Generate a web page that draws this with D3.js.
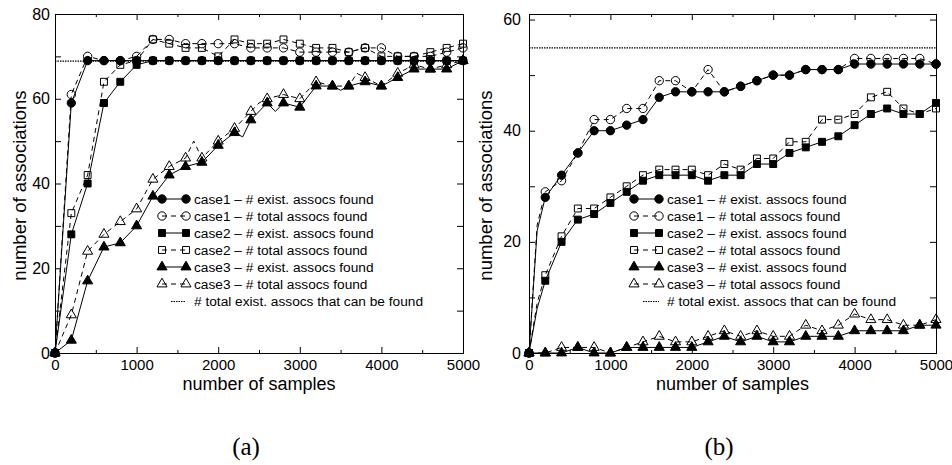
<!DOCTYPE html>
<html>
<head>
<meta charset="utf-8">
<script src="https://cdn.jsdelivr.net/npm/d3@7"></script>
<style>
  body { margin: 0; background: #fff; }
  text { font-family: "Liberation Sans", Arial, Helvetica, sans-serif; fill: #000; }
  .caption { font-family: "Liberation Serif", "DejaVu Serif", serif; }
</style>
</head>
<body>
<div id="main-frame"></div>
<script>
// sample counts (x positions of the markers)
const samples = [0, 200, 400, 600, 800, 1000, 1200, 1400, 1600, 1800, 2000, 2200, 2400,
  2600, 2800, 3000, 3200, 3400, 3600, 3800, 4000, 4200, 4400, 4600, 4800, 5000];

const xMajorTicks = [0, 1000, 2000, 3000, 4000, 5000];
const xMinorTicks = [500, 1500, 2500, 3500, 4500];

const legendLabels = [
  "case1 \u2013 # exist. assocs found",
  "case1 \u2013 # total assocs found",
  "case2 \u2013 # exist. assocs found",
  "case2 \u2013 # total assocs found",
  "case3 \u2013 # exist. assocs found",
  "case3 \u2013 # total assocs found",
  "# total exist. assocs that can be found",
];

// panel (a)
const aCase1Exist = [0, 59, 69, 69, 69, 69, 69, 69, 69, 69, 69, 69, 69, 69, 69, 69, 69, 69, 69, 69, 69, 69, 69, 69, 69, 69];
const aCase1Total = [0, 61, 70, 69, 69, 70, 74, 74, 73, 73, 73, 73, 72, 72, 72, 71, 71, 71, 71, 72, 72, 70, 70, 70, 71, 72];
const aCase2Exist = [0, 28, 40, 59, 64, 68, 69, 69, 69, 69, 69, 69, 69, 69, 69, 69, 69, 69, 69, 69, 69, 69, 69, 69, 69, 69];
const aCase2Total = [0, 33, 42, 64, 68, 69, 74, 73, 72, 72, 70, 74, 73, 73, 74, 73, 72, 72, 71, 72, 70, 70, 70, 71, 72, 73];
const aCase3Exist = [0, 3, 17, 25, 26, 30, 37, 42, 44, 45, 49, 52, 55, 59, 59, 58, 63, 63, 63, 64, 63, 65, 67, 67, 67, 69];
const aCase3Total = [0, 9, 24, 28, 31, 34, 41, 44, 46, 46, 50, 53, 57, 60, 61, 60, 64, 63, 63, 65, 63, 66, 68, 67, 68, 69];
// in-between line vertices (no marker)
const aCase3ExistExtra = [[2300, 51], [2700, 57], [3500, 62]];
const aCase3TotalExtra = [[1700, 50], [2500, 59], [3700, 66]];
const aMaxFound = 69;

// panel (b)
const bCase1Exist = [0, 28, 32, 36, 40, 40, 41, 42, 46, 47, 47, 47, 47, 48, 49, 50, 50, 51, 51, 51, 52, 52, 52, 52, 52, 52];
const bCase1Total = [0, 29, 31, 36, 42, 42, 44, 44, 49, 49, 47, 51, 47, 48, 49, 50, 50, 51, 51, 51, 53, 53, 53, 53, 53, 52];
const bCase2Exist = [0, 13, 20, 24, 25, 27, 29, 31, 32, 32, 32, 31, 32, 32, 34, 34, 36, 37, 38, 39, 41, 43, 44, 43, 43, 45];
const bCase2Total = [0, 14, 21, 26, 26, 28, 30, 32, 33, 33, 33, 32, 34, 33, 35, 35, 38, 38, 42, 42, 43, 46, 47, 44, 43, 44];
const bCase3Exist = [0, 0, 0, 1, 0, 0, 1, 1, 1, 1, 1, 2, 3, 2, 3, 2, 2, 3, 3, 3, 4, 4, 4, 4, 5, 5];
const bCase3Total = [0, 0, 1, 1, 1, 0, 1, 2, 3, 2, 2, 3, 4, 3, 4, 3, 3, 5, 4, 5, 7, 6, 6, 5, 5, 6];
const bCase1ExistExtra = [[100, 22]];
const bCase1TotalExtra = [[100, 23]];
const bCase2ExistExtra = [[100, 8]];
const bCase2TotalExtra = [[100, 9]];
const bMaxFound = 55;

const svg = d3
  .select("#main-frame")
  .append("svg")
  .attr("width", 952)
  .attr("height", 465);

svg.append("rect").attr("width", 952).attr("height", 465).attr("fill", "#fff");

// marker styles for the six series, in legend order
const styles = [
  { type: d3.symbolCircle, size: 55, filled: true, dash: null },
  { type: d3.symbolCircle, size: 55, filled: false, dash: "5,4" },
  { type: d3.symbolSquare, size: 48, filled: true, dash: null },
  { type: d3.symbolSquare, size: 48, filled: false, dash: "5,4" },
  { type: d3.symbolTriangle, size: 44, filled: true, dash: null },
  { type: d3.symbolTriangle, size: 44, filled: false, dash: "5,4" },
];

function drawMarker(g, style, px, py) {
  g.append("path")
    .attr("d", d3.symbol().type(style.type).size(style.size)())
    .attr("transform", `translate(${px},${py})`)
    .attr("fill", style.filled ? "#000" : "none")
    .attr("stroke", "#000")
    .attr("stroke-width", 1);
}

function drawPanel(p) {
  const x = d3.scaleLinear().domain([0, 5000]).range([p.left, p.right]);
  const y = d3.scaleLinear().domain([0, p.yMax]).range([p.bottom, p.top]);
  const g = svg.append("g");

  const fixAxis = (sel) => {
    sel.select(".domain").remove();
    sel.attr("font-size", 15);
  };

  // axes, ticks point inward
  g.append("g")
    .attr("transform", `translate(0,${p.bottom})`)
    .call(d3.axisBottom(x).tickValues(xMajorTicks).tickSize(-6).tickPadding(6).tickFormat(d3.format("d")))
    .call(fixAxis);
  g.append("g")
    .attr("transform", `translate(0,${p.bottom})`)
    .call(d3.axisBottom(x).tickValues(xMinorTicks).tickSize(-3).tickFormat(""))
    .call(fixAxis);
  g.append("g")
    .attr("transform", `translate(0,${p.top})`)
    .call(d3.axisTop(x).tickValues(xMajorTicks).tickSize(-6).tickFormat(""))
    .call(fixAxis);
  g.append("g")
    .attr("transform", `translate(0,${p.top})`)
    .call(d3.axisTop(x).tickValues(xMinorTicks).tickSize(-3).tickFormat(""))
    .call(fixAxis);
  g.append("g")
    .attr("transform", `translate(${p.left},0)`)
    .call(d3.axisLeft(y).tickValues(p.yTicks).tickSize(-6).tickPadding(p.yPad)
      .tickFormat((d) => (d % 20 === 0 ? d : "")))
    .call(fixAxis)
    .attr("font-size", 16);
  g.append("g")
    .attr("transform", `translate(${p.right},0)`)
    .call(d3.axisRight(y).tickValues(p.yTicks).tickSize(-6).tickFormat(""))
    .call(fixAxis);

  // frame
  g.append("rect")
    .attr("x", p.left + 0.5)
    .attr("y", p.top + 0.5)
    .attr("width", p.right - p.left)
    .attr("height", p.bottom - p.top)
    .attr("fill", "none")
    .attr("stroke", "#000");

  // axis titles
  g.append("text")
    .attr("x", (p.left + p.right) / 2)
    .attr("y", p.bottom + 37)
    .attr("text-anchor", "middle")
    .attr("font-size", 18)
    .text("number of samples");
  g.append("text")
    .attr("transform", `translate(${p.yLabelX},${(p.top + p.bottom) / 2 + 2}) rotate(-90)`)
    .attr("text-anchor", "middle")
    .attr("font-size", 18.5)
    .text("number of associations");

  // series
  const line = d3.line().x((d) => x(d[0])).y((d) => y(d[1]));
  p.series.forEach((vals, i) => {
    const st = styles[i];
    const pts = samples.map((s, j) => [s, vals[j]]);
    const linePts = pts.concat(p.extras[i] || []).sort((a, b) => a[0] - b[0]);
    g.append("path")
      .datum(linePts)
      .attr("d", line)
      .attr("fill", "none")
      .attr("stroke", "#000")
      .attr("stroke-width", 1)
      .attr("stroke-dasharray", st.dash);
    pts.forEach((d) => drawMarker(g, st, x(d[0]), y(d[1])));
  });

  // upper limit (dotted)
  g.append("line")
    .attr("x1", x(0))
    .attr("x2", x(5000))
    .attr("y1", y(p.maxFound) + 0.5)
    .attr("y2", y(p.maxFound) + 0.5)
    .attr("stroke", "#000")
    .attr("stroke-width", 1.2)
    .attr("stroke-dasharray", "1.5,1");

  // legend
  const lg = g.append("g");
  legendLabels.forEach((label, i) => {
    const ly = p.legendY + i * 17;
    if (i < 6) {
      const st = styles[i];
      lg.append("line")
        .attr("x1", p.legendX1).attr("x2", p.legendX2)
        .attr("y1", ly).attr("y2", ly)
        .attr("stroke", "#000")
        .attr("stroke-dasharray", st.dash);
      drawMarker(lg, st, p.legendX1, ly);
      drawMarker(lg, st, p.legendX2, ly);
    } else {
      lg.append("line")
        .attr("x1", p.legendX1 + 9).attr("x2", p.legendX2)
        .attr("y1", ly + 0.5).attr("y2", ly + 0.5)
        .attr("stroke", "#000")
        .attr("stroke-width", 1.2)
        .attr("stroke-dasharray", "1.5,1");
    }
    lg.append("text")
      .attr("x", p.legendX2 + 8)
      .attr("y", ly)
      .attr("dy", "0.35em")
      .attr("font-size", 13.7)
      .text(label);
  });

  // caption
  svg.append("text")
    .attr("class", "caption")
    .attr("x", p.captionX)
    .attr("y", 455)
    .attr("text-anchor", "middle")
    .attr("font-size", 25)
    .text(p.caption);
}

drawPanel({
  left: 55, right: 463, top: 14, bottom: 353, yMax: 80,
  yTicks: [0, 10, 20, 30, 40, 50, 60, 70, 80], yPad: 5, yLabelX: 26,
  series: [aCase1Exist, aCase1Total, aCase2Exist, aCase2Total, aCase3Exist, aCase3Total],
  extras: [[], [], [], [], aCase3ExistExtra, aCase3TotalExtra],
  maxFound: aMaxFound,
  legendX1: 162, legendX2: 186, legendY: 199,
  caption: "(a)", captionX: 246,
});

drawPanel({
  left: 529, right: 936, top: 14, bottom: 353, yMax: 61,
  yTicks: [0, 10, 20, 30, 40, 50, 60], yPad: 8, yLabelX: 492,
  series: [bCase1Exist, bCase1Total, bCase2Exist, bCase2Total, bCase3Exist, bCase3Total],
  extras: [bCase1ExistExtra, bCase1TotalExtra, bCase2ExistExtra, bCase2TotalExtra, [], []],
  maxFound: bMaxFound,
  legendX1: 634, legendX2: 659, legendY: 199,
  caption: "(b)", captionX: 719,
});
</script>
</body>
</html>
